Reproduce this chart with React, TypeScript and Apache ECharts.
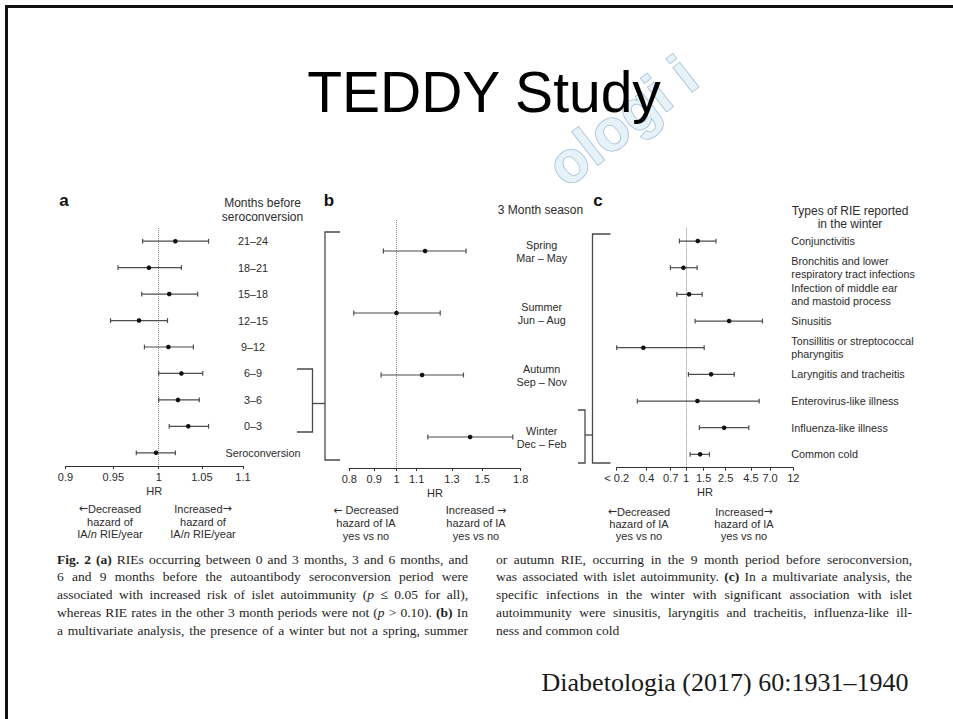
import React, { useEffect, useRef } from 'react';
import * as echarts from 'echarts';

// (a) Months before seroconversion
const monthCategories = ['21–24', '18–21', '15–18', '12–15', '9–12', '6–9', '3–6', '0–3', 'Seroconversion'];
const monthLow = [0.982, 0.955, 0.981, 0.947, 0.984, 1.0, 1.0, 1.012, 0.975];
const monthHR = [1.019, 0.989, 1.012, 0.978, 1.011, 1.026, 1.022, 1.034, 0.997];
const monthHigh = [1.058, 1.026, 1.045, 1.01, 1.04, 1.051, 1.047, 1.058, 1.019];
const monthTicks = [0.9, 0.95, 1, 1.05, 1.1];
const monthTickLabels = ['0.9', '0.95', '1', '1.05', '1.1'];

// (b) 3 month season
const seasonCategories = ['Spring\nMar – May', 'Summer\nJun – Aug', 'Autumn\nSep – Nov', 'Winter\nDec – Feb'];
const seasonLow = [0.94, 0.817, 0.93, 1.16];
const seasonHR = [1.145, 1.0, 1.129, 1.417];
const seasonHigh = [1.39, 1.23, 1.373, 1.734];
const seasonTicks = [0.8, 0.9, 1, 1.1, 1.3, 1.5, 1.8];
const seasonTickLabels = ['0.8', '0.9', '1', '1.1', '1.3', '1.5', '1.8'];

// (c) Types of RIE reported in the winter
const infectionCategories = [
  'Conjunctivitis',
  'Bronchitis and lower\nrespiratory tract infections',
  'Infection of middle ear\nand mastoid process',
  'Sinusitis',
  'Tonsillitis or streptococcal\npharyngitis',
  'Laryngitis and tracheitis',
  'Enterovirus-like illness',
  'Influenza-like illness',
  'Common cold',
];
const infectionLow = [0.856, 0.695, 0.806, 1.232, 0.2, 1.055, 0.323, 1.36, 1.097];
const infectionHR = [1.31, 0.94, 1.072, 2.71, 0.371, 1.786, 1.3, 2.415, 1.384];
const infectionHigh = [2.0, 1.29, 1.45, 5.87, 1.52, 3.05, 5.44, 4.28, 1.717];
const infectionTicks = [0.2, 0.4, 0.7, 1, 1.5, 2.5, 4.5, 7, 12];
const infectionTickLabels = ['< 0.2', '0.4', '0.7', '1', '1.5', '2.5', '4.5', '7.0', '12'];

// Figure legend, two justified columns (* toggles bold, _ toggles italic)
const captionLeft = [
  '*Fig. 2* *(a)* RIEs occurring between 0 and 3 months, 3 and 6 months, and',
  '6 and 9 months before the autoantibody seroconversion period were',
  'associated with increased risk of islet autoimmunity (_p_ ≤ 0.05 for all),',
  'whereas RIE rates in the other 3 month periods were not (_p_ > 0.10). *(b)* In',
  'a multivariate analysis, the presence of a winter but not a spring, summer',
];
const captionRight = [
  'or autumn RIE, occurring in the 9 month period before seroconversion,',
  'was associated with islet autoimmunity. *(c)* In a multivariate analysis, the',
  'specific infections in the winter with significant association with islet',
  'autoimmunity were sinusitis, laryngitis and tracheitis, influenza-like ill-',
  'ness and common cold',
];

const SANS = '"Liberation Sans", Arial, Helvetica, sans-serif';
const SERIF = '"Liberation Serif", "Times New Roman", serif';
const INK = '#2b2b2b';
const BAR = '#4d4d4d';

type Seg = { t: string; b: boolean; i: boolean };

function parseWords(line: string): Seg[][] {
  const words: Seg[][] = [];
  let bold = false;
  let ital = false;
  let cur: Seg[] = [];
  let seg = '';
  const flush = () => {
    if (seg) {
      cur.push({ t: seg, b: bold, i: ital });
      seg = '';
    }
  };
  for (const ch of line) {
    if (ch === '*') {
      flush();
      bold = !bold;
    } else if (ch === '_') {
      flush();
      ital = !ital;
    } else if (ch === ' ') {
      flush();
      if (cur.length) {
        words.push(cur);
        cur = [];
      }
    } else seg += ch;
  }
  flush();
  if (cur.length) words.push(cur);
  return words;
}

function captionElements(lines: string[], left: number, width: number, top: number, step: number, justifyLast: boolean) {
  const size = 13.5;
  const ctx = document.createElement('canvas').getContext('2d') as CanvasRenderingContext2D;
  const fontOf = (s: Seg) => `${s.i ? 'italic ' : ''}${s.b ? 'bold ' : ''}${size}px ${SERIF}`;
  const measure = (s: Seg) => {
    ctx.font = fontOf(s);
    return ctx.measureText(s.t).width;
  };
  ctx.font = `${size}px ${SERIF}`;
  const space = ctx.measureText(' ').width;
  const out: any[] = [];
  lines.forEach((line, li) => {
    const words = parseWords(line);
    const widths = words.map((w) => w.reduce((a, s) => a + measure(s), 0));
    const total = widths.reduce((a, b) => a + b, 0);
    const justify = li < lines.length - 1 || justifyLast;
    const gap = justify && words.length > 1 ? (width - total) / (words.length - 1) : space;
    let x = left;
    const y = top + li * step;
    words.forEach((w, wi) => {
      let sx = x;
      w.forEach((s) => {
        out.push({
          type: 'text',
          x: sx,
          y,
          z: 10,
          style: {
            text: s.t,
            fill: '#1e1e1e',
            fontFamily: SERIF,
            fontSize: size,
            fontWeight: s.b ? 'bold' : 'normal',
            fontStyle: s.i ? 'italic' : 'normal',
            textAlign: 'left',
            textVerticalAlign: 'middle',
          },
        });
        sx += measure(s);
      });
      x += widths[wi] + gap;
    });
  });
  return out;
}

function renderInterval(params: any, api: any) {
  const row = api.value(0);
  const lo = api.coord([api.value(1), row]);
  const mid = api.coord([api.value(2), row]);
  const hi = api.coord([api.value(3), row]);
  const cap = 2.4;
  const stroke = { stroke: BAR, lineWidth: 1.2 };
  return {
    type: 'group',
    children: [
      { type: 'line', shape: { x1: lo[0], y1: lo[1], x2: hi[0], y2: hi[1] }, style: stroke },
      { type: 'line', shape: { x1: lo[0], y1: lo[1] - cap, x2: lo[0], y2: lo[1] + cap }, style: stroke },
      { type: 'line', shape: { x1: hi[0], y1: hi[1] - cap, x2: hi[0], y2: hi[1] + cap }, style: stroke },
      { type: 'circle', shape: { cx: mid[0], cy: mid[1], r: 2.3 }, style: { fill: '#111' } },
    ],
  };
}

function text(x: number, y: number, t: string, size: number, opts: any = {}) {
  return {
    type: 'text',
    x,
    y,
    z: opts.z ?? 10,
    rotation: opts.rotation ?? 0,
    style: {
      text: t,
      fill: opts.fill ?? INK,
      fontFamily: opts.family ?? SANS,
      fontSize: size,
      fontWeight: opts.weight ?? 'normal',
      textAlign: opts.align ?? 'center',
      textVerticalAlign: 'middle',
      lineHeight: opts.lineHeight,
      rich: opts.rich,
      stroke: opts.stroke,
      lineWidth: opts.lineWidth,
      opacity: opts.opacity,
    },
  };
}

function bracket(points: number[][]) {
  return {
    type: 'polyline',
    z: 10,
    shape: { points },
    style: { stroke: '#4a4a4a', lineWidth: 1.3, fill: 'none' },
  };
}

export default function App() {
  const ref = useRef<HTMLDivElement>(null);

  useEffect(() => {
    if (!ref.current) return;
    const chart = echarts.init(ref.current, null, { renderer: 'svg' });

    const panels = [
      {
        grid: { left: 65.5, top: 228, width: 177.5, height: 238 },
        min: 0.9, max: 1.1, ticks: monthTicks, tickLabels: monthTickLabels,
        cats: monthCategories,
        low: monthLow, hr: monthHR, high: monthHigh,
        labelMargin: 10, labelAlign: 'center',
        // the last row label sits a little further right
        shiftLast: true,
      },
      {
        grid: { left: 349.3, top: 220, width: 171.4, height: 248 },
        min: 0.8, max: 1.8, ticks: seasonTicks, tickLabels: seasonTickLabels,
        cats: seasonCategories,
        low: seasonLow, hr: seasonHR, high: seasonHigh,
        labelMargin: 21, labelAlign: 'center',
        shiftLast: false,
      },
      {
        grid: { left: 616.7, top: 227.7, width: 176.6, height: 240 },
        min: 0.2, max: 12, ticks: infectionTicks, tickLabels: infectionTickLabels,
        cats: infectionCategories,
        low: infectionLow, hr: infectionHR, high: infectionHigh,
        labelMargin: -2, labelAlign: 'left',
        shiftLast: false,
      },
    ];

    const grid = panels.map((p) => ({ ...p.grid, containLabel: false, outerBoundsMode: 'none' }));
    const xAxis = panels.map((p, i) => ({
      type: 'log',
      logBase: 10,
      gridIndex: i,
      z: 5,
      min: p.min,
      max: p.max,
      name: 'HR',
      nameLocation: 'middle',
      nameGap: 19,
      nameTextStyle: { color: INK, fontSize: 11, fontFamily: SANS },
      axisLine: { show: true, lineStyle: { color: '#333', width: 1.2 } },
      axisTick: { show: true, customValues: p.ticks, length: 3, lineStyle: { color: '#333', width: 1 } },
      axisLabel: {
        customValues: p.ticks,
        margin: 5,
        color: INK,
        fontSize: 11,
        fontFamily: SANS,
        formatter: (v: number) => {
          const k = p.ticks.findIndex((t) => Math.abs(t - v) < 1e-9);
          return k >= 0 ? p.tickLabels[k] : String(v);
        },
      },
      splitLine: { show: false },
      minorTick: { show: false },
      minorSplitLine: { show: false },
    }));
    const yAxis = panels.map((p, i) => ({
      type: 'category',
      gridIndex: i,
      z: 5,
      inverse: true,
      position: 'right',
      data: p.cats,
      axisLine: { show: false },
      axisTick: { show: false },
      splitLine: { show: false },
      axisLabel: {
        interval: 0,
        margin: p.labelMargin,
        align: p.labelAlign,
        color: INK,
        fontSize: 10.8,
        lineHeight: 13,
        fontFamily: SANS,
        formatter: (v: string, idx: number) => (p.shiftLast && idx === p.cats.length - 1 ? `{s|${v}}` : v),
        rich: {
          s: { padding: [0, 0, 0, 20], color: INK, fontSize: 10.8, fontFamily: SANS },
        },
      },
    }));
    const series = panels.map((p, i) => ({
      type: 'custom',
      xAxisIndex: i,
      yAxisIndex: i,
      z: 6,
      renderItem: renderInterval,
      encode: { x: [1, 2, 3], y: 0 },
      clip: false,
      data: p.low.map((lo, k) => [k, lo, p.hr[k], p.high[k]]),
      markLine: {
        silent: true,
        symbol: ['none', 'none'],
        label: { show: false },
        lineStyle: { type: 'dotted', color: '#8a8a8a', width: 1 },
        data: [{ xAxis: 1 }],
      },
    }));

    const arrowRich = {
      i: { fontStyle: 'italic', fontSize: 11, fontFamily: SANS, color: INK },
      a: { fontSize: 11, fontFamily: '"DejaVu Sans", sans-serif', color: INK },
    };

    const graphics: any[] = [
      // slide frame
      { type: 'rect', z: 12, shape: { x: 5, y: 5, width: 948, height: 3 }, style: { fill: '#111' } },
      { type: 'rect', z: 12, shape: { x: 5, y: 5, width: 3, height: 714 }, style: { fill: '#111' } },
      // watermark behind the title
      text(622, 121, 'ologi i', 58, {
        z: 0, rotation: 0.66, weight: 'bold', fill: 'rgba(230,240,248,0.95)', stroke: '#9fc0da', lineWidth: 1.5,
      }),
      // figure background
      { type: 'rect', z: 1, shape: { x: 40, y: 188, width: 890, height: 470 }, style: { fill: '#fff' } },
      text(484, 92, 'TEDDY Study', 57, { fill: '#000', z: 11 }),
      // panel letters and headers
      text(64, 200, 'a', 17, { weight: 'bold', fill: '#111' }),
      text(329, 200, 'b', 17, { weight: 'bold', fill: '#111' }),
      text(598, 200, 'c', 17, { weight: 'bold', fill: '#111' }),
      text(262.5, 210, 'Months before\nseroconversion', 12, { lineHeight: 13.5 }),
      text(540.5, 209.5, '3 Month season', 12),
      text(850, 217.5, 'Types of RIE reported\nin the winter', 12, { lineHeight: 12.5 }),
      // direction notes
      text(110, 521.5, '{a|←}Decreased\nhazard of\nIA/{i|n} RIE/year', 11, { lineHeight: 12.7, rich: arrowRich }),
      text(203, 521.5, 'Increased{a|→}\nhazard of\nIA/{i|n} RIE/year', 11, { lineHeight: 12.7, rich: arrowRich }),
      text(366, 523, '{a|←} Decreased\nhazard of IA\nyes vs no', 11, { lineHeight: 12.8, rich: arrowRich }),
      text(476, 523, 'Increased {a|→}\nhazard of IA\nyes vs no', 11, { lineHeight: 12.8, rich: arrowRich }),
      text(639, 524, '{a|←}Decreased\nhazard of IA\nyes vs no', 11, { lineHeight: 12.2, rich: arrowRich }),
      text(744, 524, 'Increased{a|→}\nhazard of IA\nyes vs no', 11, { lineHeight: 12.2, rich: arrowRich }),
      // brackets linking the panels
      bracket([[297, 369], [312.5, 369], [312.5, 432], [297, 432]]),
      bracket([[312.5, 403.5], [325, 403.5]]),
      bracket([[340, 232], [325, 232], [325, 460], [340, 460]]),
      bracket([[578, 410], [585, 410], [585, 463], [578, 463]]),
      bracket([[585, 435], [592.5, 435]]),
      bracket([[610.5, 234], [592.5, 234], [592.5, 463], [610.5, 463]]),
      // journal reference
      text(725, 682, 'Diabetologia (2017) 60:1931–1940', 26, { family: SERIF, fill: '#1a1a1a' }),
      ...captionElements(captionLeft, 57, 411, 559, 17.8, true),
      ...captionElements(captionRight, 496, 416, 559, 17.8, false),
    ];

    chart.setOption({
      animation: false,
      backgroundColor: '#fff',
      textStyle: { fontFamily: SANS },
      grid,
      xAxis,
      yAxis,
      series,
      graphic: { elements: graphics },
    });

    return () => chart.dispose();
  }, []);

  return <div ref={ref} style={{ position: 'absolute', left: 0, top: 0, width: 953, height: 719 }} />;
}
